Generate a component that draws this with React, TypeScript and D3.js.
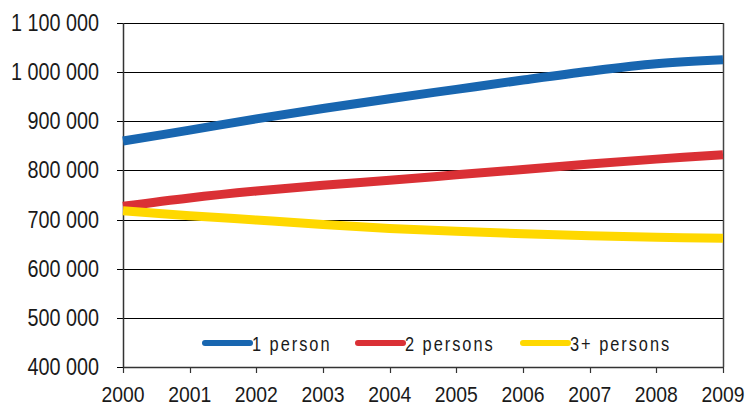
import { useMemo } from "react";
import * as d3 from "d3";

const years = [2000, 2001, 2002, 2003, 2004, 2005, 2006, 2007, 2008, 2009];
const onePerson = [860000, 882000, 905000, 926000, 946000, 965000, 984000, 1002000, 1017000, 1025000];
const twoPersons = [727000, 744000, 758000, 770000, 780000, 791000, 802000, 813000, 823000, 832000];
const threePlus = [718000, 708000, 699000, 690000, 682000, 676000, 671000, 667000, 664000, 662000];
const yTicks = [400000, 500000, 600000, 700000, 800000, 900000, 1000000, 1100000];

const series = [
  { name: "1 person", values: onePerson, color: "#1866b0" },
  { name: "2 persons", values: twoPersons, color: "#da3035" },
  { name: "3+ persons", values: threePlus, color: "#ffd800" },
];

const W = 747;
const H = 408;
const margin = { top: 23, right: 24, bottom: 41, left: 123 };
const FONT = "'Liberation Sans', Arial, sans-serif";

const fmt = (v: number) => d3.format(",")(v).replace(/,/g, " ");

// Arial squeezed sideways to look like Arial Narrow
function NText({
  x,
  y,
  anchor,
  size,
  squeeze,
  spacing = 0,
  children,
}: {
  x: number;
  y: number;
  anchor: "start" | "middle" | "end";
  size: number;
  squeeze: number;
  spacing?: number;
  children: string;
}) {
  return (
    <text
      transform={`translate(${x},${y}) scale(${squeeze},1)`}
      textAnchor={anchor}
      fontSize={size}
      letterSpacing={spacing}
      fill="#1a1a1a"
    >
      {children}
    </text>
  );
}

export default function App() {
  const x = useMemo(
    () => d3.scaleLinear().domain([2000, 2009]).range([margin.left, W - margin.right]),
    []
  );
  const y = useMemo(
    () => d3.scaleLinear().domain([400000, 1100000]).range([H - margin.bottom, margin.top]),
    []
  );
  const line = d3
    .line<number>()
    .x((_, i) => x(years[i]))
    .y((d) => y(d))
    .curve(d3.curveCatmullRom.alpha(0.5));

  const x0 = x(2000);
  const x1 = x(2009);
  const yb = y(400000);
  const yt = y(1100000);

  // legend layout
  const legend = [
    { sx: 205, tx: 252 },
    { sx: 358, tx: 405 },
    { sx: 523, tx: 570 },
  ];

  return (
    <svg
      width={W}
      height={H}
      style={{ position: "absolute", left: 0, top: 0, background: "#fff" }}
      fontFamily={FONT}
    >
      {/* gridlines */}
      <g stroke="#000" strokeWidth={1}>
        {yTicks.map((t) => (
          <line key={t} x1={x0 - 6} x2={x1} y1={Math.round(y(t)) + 0.5} y2={Math.round(y(t)) + 0.5} />
        ))}
      </g>
      {/* plot border right */}
      <line x1={Math.round(x1) + 0.5} x2={Math.round(x1) + 0.5} y1={yt} y2={yb} stroke="#444" strokeWidth={1.5} />
      {/* y axis */}
      <line x1={Math.round(x0) + 0.5} x2={Math.round(x0) + 0.5} y1={yt} y2={yb} stroke="#333" strokeWidth={1.5} />
      {yTicks.map((t) => (
        <NText key={t} x={99} y={y(t) + 8} anchor="end" size={23} squeeze={0.86}>
          {fmt(t)}
        </NText>
      ))}
      {/* x axis */}
      <line x1={x0} x2={x1} y1={Math.round(yb) + 0.5} y2={Math.round(yb) + 0.5} stroke="#333" strokeWidth={1.5} />
      <g stroke="#333" strokeWidth={1.2}>
        {years.map((yr) => (
          <line key={yr} x1={Math.round(x(yr)) + 0.5} x2={Math.round(x(yr)) + 0.5} y1={yb} y2={yb + 6} />
        ))}
      </g>
      {years.map((yr) => (
        <NText key={yr} x={x(yr)} y={402} anchor="middle" size={22} squeeze={0.88}>
          {String(yr)}
        </NText>
      ))}
      {/* series */}
      {series.map((s) => (
        <path
          key={s.name}
          d={line(s.values) ?? ""}
          fill="none"
          stroke={s.color}
          strokeWidth={9}
          strokeLinejoin="round"
        />
      ))}
      {/* legend */}
      {series.map((s, i) => (
        <g key={s.name}>
          <line
            x1={legend[i].sx}
            x2={legend[i].sx + 45}
            y1={343}
            y2={343}
            stroke={s.color}
            strokeWidth={6}
            strokeLinecap="round"
          />
          <NText x={legend[i].tx} y={351} anchor="start" size={20} squeeze={0.82} spacing={2.4}>
            {s.name}
          </NText>
        </g>
      ))}
    </svg>
  );
}
